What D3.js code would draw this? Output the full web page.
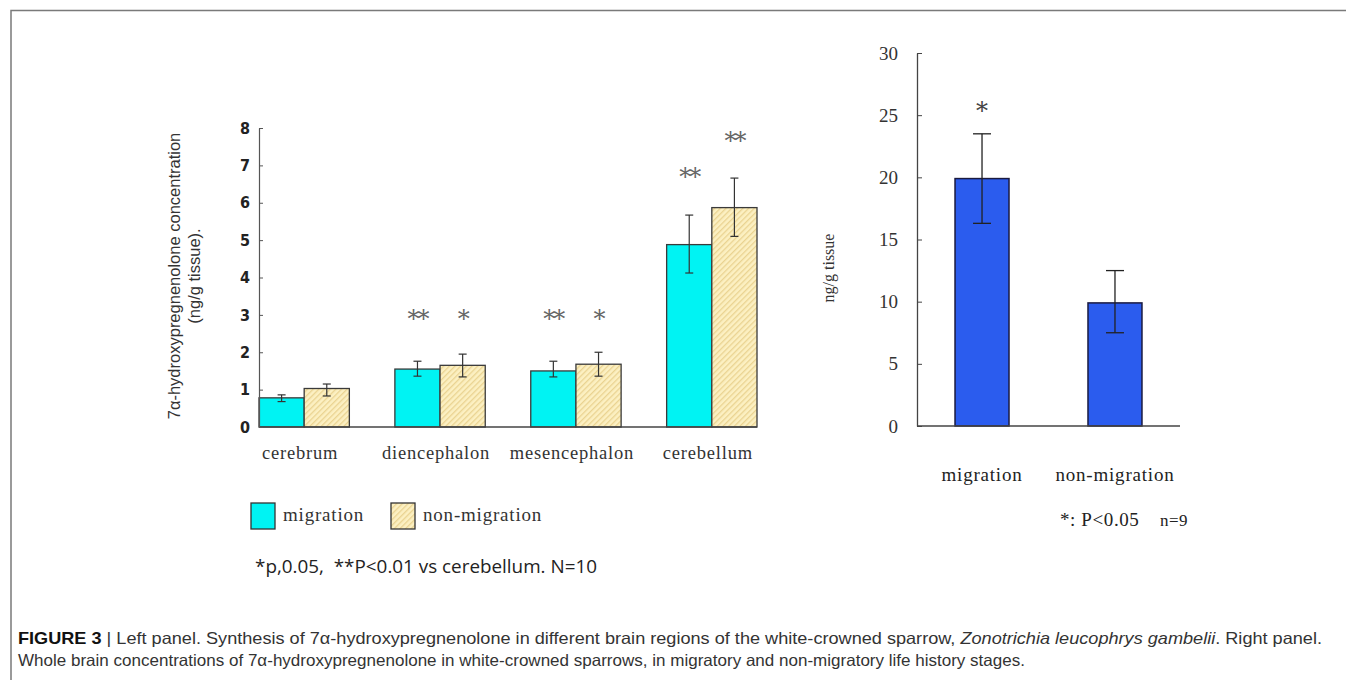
<!DOCTYPE html>
<html><head><meta charset="utf-8">
<script src="https://cdn.jsdelivr.net/npm/d3@7"></script>
<style>body{margin:0;background:#fff}svg{display:block}</style>
</head><body>
<svg id="c" width="1346" height="680"></svg>
<script>
// ---------- data ----------
const regions = ["cerebrum", "diencephalon", "mesencephalon", "cerebellum"];
const groups = ["migration", "non-migration"];
const migMean = [0.78, 1.55, 1.50, 4.88];
const migLow  = [0.68, 1.36, 1.34, 4.12];
const migHigh = [0.86, 1.76, 1.76, 5.67];
const nonMean = [1.03, 1.65, 1.68, 5.87];
const nonLow  = [0.83, 1.34, 1.36, 5.10];
const nonHigh = [1.15, 1.95, 2.00, 6.66];
const migStars = ["", "**", "**", "**"];
const nonStars = ["", "*", "*", "**"];
const migStarAt = [0, 3.0, 3.0, 6.8];
const nonStarAt = [0, 3.0, 3.0, 7.75];
const leftTicks = [0, 1, 2, 3, 4, 5, 6, 7, 8];

const stages = ["migration", "non-migration"];
const wholeMean = [19.9, 9.9];
const wholeLow  = [16.3, 7.5];
const wholeHigh = [23.5, 12.5];
const wholeStars = ["*", ""];
const rightTicks = [0, 5, 10, 15, 20, 25, 30];

const svg = d3.select("#c");
const SERIF = "Liberation Serif";

// frame
svg.append("path").attr("d", "M11,680 V10.5 H1346").attr("fill", "none")
  .attr("stroke", "#7a7a7a").attr("stroke-width", 1.5);

// hatch pattern
const defs = svg.append("defs");
const pat = defs.append("pattern").attr("id", "hatch").attr("patternUnits", "userSpaceOnUse")
  .attr("width", 4).attr("height", 4).attr("patternTransform", "rotate(-45)");
pat.append("rect").attr("width", 4).attr("height", 4).attr("fill", "#fcf0c2");
pat.append("rect").attr("width", 4).attr("height", 1.3).attr("fill", "#ead391");

// ---------- left panel ----------
const yL = d3.scaleLinear().domain([0, 8]).range([427, 128]);
const xL = d3.scaleBand().domain(regions).range([259, 757]).paddingInner(0.335).paddingOuter(0);
const xG = d3.scaleBand().domain(groups).range([0, xL.bandwidth()]);

const L = svg.append("g");
const series = [
  {key: "migration", mean: migMean, lo: migLow, hi: migHigh, stars: migStars, starAt: migStarAt, fill: "#00f3f3"},
  {key: "non-migration", mean: nonMean, lo: nonLow, hi: nonHigh, stars: nonStars, starAt: nonStarAt, fill: "url(#hatch)"}
];
series.forEach(s => {
  regions.forEach((r, i) => {
    const x0 = xL(r) + xG(s.key), w = xG.bandwidth();
    L.append("rect").attr("x", x0).attr("y", yL(s.mean[i])).attr("width", w)
      .attr("height", yL(0) - yL(s.mean[i])).attr("fill", s.fill)
      .attr("stroke", "#3a3a3a").attr("stroke-width", 1.3);
    const cx = x0 + w / 2;
    const eb = L.append("g").attr("stroke", "#333").attr("stroke-width", 1.2);
    eb.append("line").attr("x1", cx).attr("x2", cx).attr("y1", yL(s.lo[i])).attr("y2", yL(s.hi[i]));
    [s.lo[i], s.hi[i]].forEach(v => eb.append("line").attr("x1", cx - 4).attr("x2", cx + 4)
      .attr("y1", yL(v)).attr("y2", yL(v)));
    if (s.stars[i]) {
      L.append("text").attr("x", cx).attr("y", yL(s.starAt[i]) + 12).attr("text-anchor", "middle")
        .attr("font-family", "DejaVu Serif").attr("font-size", 24).attr("fill", "#666")
        .attr("letter-spacing", -2).text(s.stars[i]);
    }
  });
});
// baseline
L.append("line").attr("x1", 259).attr("x2", 757).attr("y1", yL(0)).attr("y2", yL(0))
  .attr("stroke", "#444").attr("stroke-width", 1.3);
// y axis
const axL = L.append("g").attr("transform", "translate(259,0)")
  .call(d3.axisLeft(yL).tickValues(leftTicks).tickFormat(d3.format("d"))
    .tickSizeInner(-4).tickSizeOuter(0).tickPadding(9));
axL.select(".domain").attr("stroke", "#555").attr("stroke-width", 1.2);
axL.selectAll(".tick line").attr("stroke", "#555");
axL.selectAll(".tick text").attr("font-family", "DejaVu Sans Condensed, DejaVu Sans")
  .attr("font-stretch", "condensed").attr("font-weight", "bold").attr("font-size", 16).attr("fill", "#222");
// category labels
regions.forEach(r => L.append("text").attr("x", xL(r) + xL.bandwidth() / 2 - 4).attr("y", 459)
  .attr("text-anchor", "middle").attr("font-family", SERIF).attr("font-size", 18.5)
  .attr("letter-spacing", 0.8).attr("fill", "#333").text(r));
// y title
const yt = L.append("text").attr("transform", "translate(180,276) rotate(-90)")
  .attr("text-anchor", "middle").attr("font-family", "Liberation Sans").attr("font-size", 16.5).attr("fill", "#333");
yt.append("tspan").attr("x", 0).attr("y", 0).text("7α-hydroxypregnenolone concentration");
yt.append("tspan").attr("x", 0).attr("y", 20).text("(ng/g tissue).");
// legend
const legFills = ["#00f3f3", "url(#hatch)"];
const legX = [251, 391];
groups.forEach((g, i) => {
  L.append("rect").attr("x", legX[i]).attr("y", 503).attr("width", 24).attr("height", 26)
    .attr("fill", legFills[i]).attr("stroke", "#333").attr("stroke-width", 1.3);
  L.append("text").attr("x", legX[i] + 32).attr("y", 521).attr("font-family", SERIF)
    .attr("font-size", 19).attr("letter-spacing", 0.8).attr("fill", "#333").text(g);
});
L.append("text").attr("x", 255).attr("y", 573).attr("font-family", "Open Sans")
  .attr("font-size", 18).attr("fill", "#222").attr("xml:space", "preserve")
  .attr("textLength", 342).attr("lengthAdjust", "spacingAndGlyphs")
  .text("*p,0.05,  **P<0.01 vs cerebellum. N=10");

// ---------- right panel ----------
const yR = d3.scaleLinear().domain([0, 30]).range([426, 53]);
const xR = d3.scaleBand().domain(stages).range([917, 1180]).paddingInner(0.594).paddingOuter(0.286);
const R = svg.append("g");
stages.forEach((s, i) => {
  const x0 = xR(s), w = xR.bandwidth(), cx = x0 + w / 2;
  R.append("rect").attr("x", x0).attr("y", yR(wholeMean[i])).attr("width", w)
    .attr("height", yR(0) - yR(wholeMean[i])).attr("fill", "#2b5cee")
    .attr("stroke", "#1a1a40").attr("stroke-width", 1.5);
  const eb = R.append("g").attr("stroke", "#222").attr("stroke-width", 1.3);
  eb.append("line").attr("x1", cx).attr("x2", cx).attr("y1", yR(wholeLow[i])).attr("y2", yR(wholeHigh[i]));
  [wholeLow[i], wholeHigh[i]].forEach(v => eb.append("line").attr("x1", cx - 9).attr("x2", cx + 9)
    .attr("y1", yR(v)).attr("y2", yR(v)));
  if (wholeStars[i]) R.append("text").attr("x", cx).attr("y", yR(wholeHigh[i]) - 15)
    .attr("text-anchor", "middle").attr("font-family", "DejaVu Serif").attr("font-size", 24)
    .attr("fill", "#444").text(wholeStars[i]);
  R.append("text").attr("x", cx).attr("y", 481).attr("text-anchor", "middle")
    .attr("font-family", SERIF).attr("font-size", 19).attr("letter-spacing", 0.8)
    .attr("fill", "#222").text(s);
});
R.append("line").attr("x1", 917).attr("x2", 1180).attr("y1", yR(0)).attr("y2", yR(0))
  .attr("stroke", "#444").attr("stroke-width", 1.3);
const axR = R.append("g").attr("transform", "translate(917,0)")
  .call(d3.axisLeft(yR).tickValues(rightTicks).tickSizeInner(-5).tickSizeOuter(0).tickPadding(19));
axR.select(".domain").attr("stroke", "#444").attr("stroke-width", 1.3);
axR.selectAll(".tick line").attr("stroke", "#444");
axR.selectAll(".tick text").attr("font-family", SERIF).attr("font-size", 19).attr("fill", "#333");
R.append("text").attr("transform", "translate(834,268) rotate(-90)").attr("text-anchor", "middle")
  .attr("font-family", SERIF).attr("font-size", 16).attr("fill", "#333").text("ng/g tissue");
R.append("text").attr("x", 1060).attr("y", 526).attr("font-family", SERIF)
  .attr("font-size", 19).attr("letter-spacing", 0.6).attr("fill", "#222").text("*: P<0.05");
R.append("text").attr("x", 1160).attr("y", 526).attr("font-family", SERIF)
  .attr("font-size", 17).attr("letter-spacing", 0.5).attr("fill", "#222").text("n=9");

// ---------- caption ----------
const cap1 = svg.append("text").attr("x", 18).attr("y", 644).attr("font-family", "Liberation Sans Narrow, Liberation Sans")
  .attr("font-size", 16.5).attr("fill", "#333").attr("textLength", 1304).attr("lengthAdjust", "spacingAndGlyphs");
cap1.append("tspan").attr("font-weight", "bold").attr("fill", "#111").text("FIGURE 3");
cap1.append("tspan").text(" | Left panel. Synthesis of 7α-hydroxypregnenolone in different brain regions of the white-crowned sparrow, ");
cap1.append("tspan").attr("font-style", "italic").text("Zonotrichia leucophrys gambelii");
cap1.append("tspan").text(". Right panel.");
svg.append("text").attr("x", 18).attr("y", 666).attr("font-family", "Liberation Sans Narrow, Liberation Sans")
  .attr("font-size", 16.5).attr("fill", "#333").attr("textLength", 1007).attr("lengthAdjust", "spacingAndGlyphs")
  .text("Whole brain concentrations of 7α-hydroxypregnenolone in white-crowned sparrows, in migratory and non-migratory life history stages.");
</script>
</body></html>
